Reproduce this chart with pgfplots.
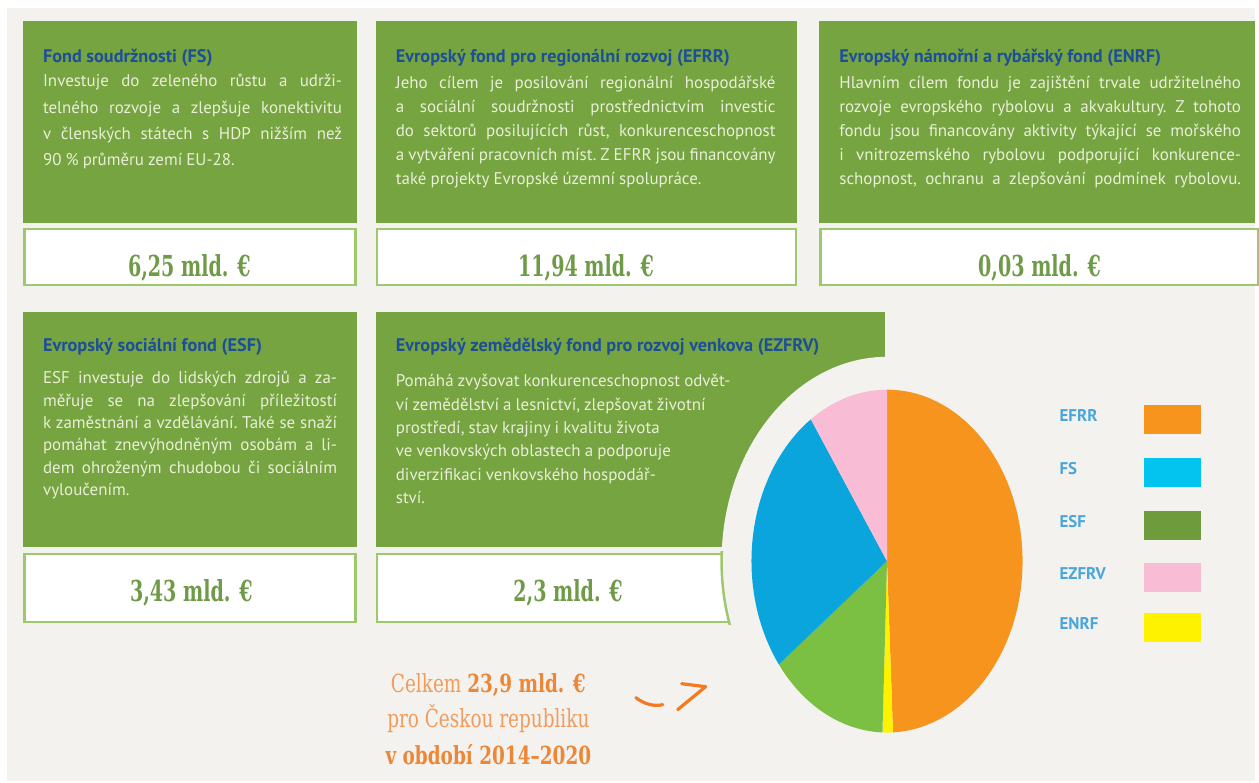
\documentclass[border=0pt]{standalone}
\usepackage{pgfplots}
\pgfplotsset{compat=1.18}
\usepackage{pgfplotstable}
\usepackage{fontspec}
\usetikzlibrary{arrows.meta}
\setmainfont{PT Sans}
\newfontfamily\slab[FakeStretch=0.66]{DejaVu Serif}
\newfontfamily\slabt[FakeStretch=0.74]{DejaVu Serif}

\definecolor{bg}{HTML}{F3F2EF}
\definecolor{boxg}{HTML}{76A440}
\definecolor{ttlc}{HTML}{1D4F98}
\definecolor{bodyc}{HTML}{E9EFD8}
\definecolor{valbd}{HTML}{9DC86E}
\definecolor{valtx}{HTML}{6F9B48}
\definecolor{cEFRR}{HTML}{F7941E}
\definecolor{cFS}{HTML}{0BA5DE}
\definecolor{cESF}{HTML}{7CC043}
\definecolor{cEZFRV}{HTML}{F8BDD4}
\definecolor{cENRF}{HTML}{FFF200}
\definecolor{lgFS}{HTML}{03C3EF}
\definecolor{lgESF}{HTML}{6E9C3C}
\definecolor{lglab}{HTML}{4AA6DA}
\definecolor{org}{HTML}{F29B5C}
\definecolor{orgd}{HTML}{EC8737}
\definecolor{arr}{HTML}{F47A20}

\pgfplotstableread{
fund  value
EFRR  11.94
ENRF  0.30
ESF   3.43
FS    6.25
EZFRV 2.30
}\piedata

\newcommand\ttl[3]{\node[anchor=base west,inner sep=0,text=ttlc,font=\fontsize{18.3}{20}\selectfont\bfseries] at (#1,#2) {#3};}
\newcommand\bfont{\fontsize{17}{19}\selectfont\frenchspacing\spaceskip=.24em plus 2em minus .1em\relax}
\newcommand\jl[4]{\node[anchor=base west,inner sep=0,text=bodyc,font=\bfont] at (#1,#2) {\makebox[#3pt][s]{#4}};}
\newcommand\pl[3]{\node[anchor=base west,inner sep=0,text=bodyc,font=\bfont] at (#1,#2) {#3};}
\newcommand\val[3]{\node[anchor=base,inner sep=0,text=valtx,font=\slab\fontsize{29}{30}\selectfont\bfseries] at (#1,#2) {#3};}

\begin{document}
\pgfplotstablegetelem{0}{value}\of\piedata\edef\vA{\pgfplotsretval}%
\pgfplotstablegetelem{1}{value}\of\piedata\edef\vB{\pgfplotsretval}%
\pgfplotstablegetelem{2}{value}\of\piedata\edef\vC{\pgfplotsretval}%
\pgfplotstablegetelem{3}{value}\of\piedata\edef\vD{\pgfplotsretval}%
\pgfplotstablegetelem{4}{value}\of\piedata\edef\vE{\pgfplotsretval}%
\pgfmathsetmacro\tot{\vA+\vB+\vC+\vD+\vE}%
\pgfmathsetmacro\aA{90}%
\pgfmathsetmacro\aB{\aA-360*\vA/\tot}%
\pgfmathsetmacro\aC{\aB-360*\vB/\tot}%
\pgfmathsetmacro\aD{\aC-360*\vC/\tot}%
\pgfmathsetmacro\aE{\aD-360*\vD/\tot}%
\pgfmathsetmacro\aF{\aE-360*\vE/\tot}%
\begin{tikzpicture}
\begin{scope}[x=1pt,y=-1pt]
\fill[white] (0,0) rectangle (1259,785);
\fill[bg] (7,8) rectangle (1259,784);
% boxes row 1
\fill[boxg] (23,21) rectangle (358,224);
\fill[boxg] (377,21) rectangle (800,224);
\fill[boxg] (822,21) rectangle (1259,224);
\draw[valbd,line width=2.5pt,fill=white] (24.5,230) rectangle (356.5,286);
\draw[valbd,line width=2.5pt,fill=white] (378.5,230) rectangle (798.5,286);
\draw[valbd,line width=2.5pt,fill=white] (823.5,230) rectangle (1262,286);
% boxes row 2
\fill[boxg] (23,313) rectangle (358,549);
\fill[boxg] (377,313) rectangle (888,549);
\draw[valbd,line width=2.5pt,fill=white] (24.5,556) rectangle (356.5,624);
\draw[valbd,line width=2.5pt,fill=white] (378.5,556) rectangle (780,624);
% cut-out ring around the pie
\fill[bg] (890,563) ellipse [x radius=166pt, y radius=205pt];
\begin{scope}
\clip (370,553) rectangle (800,627);
\draw[valbd,line width=2.5pt] (890,563) ellipse [x radius=166pt, y radius=205pt];
\end{scope}
% titles
\ttl{43}{63}{Fond soudržnosti (FS)}
\ttl{397}{63}{Evropský fond pro regionální rozvoj (EFRR)}
\ttl{842}{63}{Evropský námořní a rybářský fond (ENRF)}
\ttl{43}{353}{Evropský sociální fond (ESF)}
\ttl{397}{353}{Evropský zemědělský fond pro rozvoj venkova (EZFRV)}
% body FS
\jl{43}{87}{300}{Investuje do zeleného růstu a udrži-}
\jl{43}{113.5}{300}{telného rozvoje a zlepšuje konektivitu}
\jl{43}{140}{300}{v členských státech s HDP nižším než}
\pl{43}{166.5}{90 \% průměru zemí EU-28.}
% body EFRR
\jl{397}{89}{381}{Jeho cílem je posilování regionální hospodářské}
\jl{397}{113}{381}{a sociální soudržnosti prostřednictvím investic}
\jl{397}{137}{381}{do sektorů posilujících růst, konkurenceschopnost}
\jl{397}{161}{381}{a vytváření pracovních míst. Z EFRR jsou financovány}
\pl{397}{185}{také projekty Evropské územní spolupráce.}
% body ENRF
\jl{842}{89}{403}{Hlavním cílem fondu je zajištění trvale udržitelného}
\jl{842}{113}{403}{rozvoje evropského rybolovu a akvakultury. Z tohoto}
\jl{842}{137}{403}{fondu jsou financovány aktivity týkající se mořského}
\jl{842}{161}{403}{i vnitrozemského rybolovu podporující konkurence-}
\jl{842}{185}{403}{schopnost, ochranu a zlepšování podmínek rybolovu.}
% body ESF
\jl{43}{385}{295}{ESF investuje do lidských zdrojů a za-}
\jl{43}{407.5}{295}{měřuje se na zlepšování příležitostí}
\jl{43}{430}{295}{k zaměstnání a vzdělávání. Také se snaží}
\jl{43}{452.5}{295}{pomáhat znevýhodněným osobám a li-}
\jl{43}{475}{295}{dem ohroženým chudobou či sociálním}
\pl{43}{497.5}{vyloučením.}
% body EZFRV
\pl{397}{388}{Pomáhá zvyšovat konkurenceschopnost odvět-}
\pl{397}{411.5}{ví zemědělství a lesnictví, zlepšovat životní}
\pl{397}{435}{prostředí, stav krajiny i kvalitu života}
\pl{397}{458.5}{ve venkovských oblastech a podporuje}
\pl{397}{482}{diverzifikaci venkovského hospodář-}
\pl{397}{505.5}{ství.}
% values
\val{190}{277}{6,25 mld. €}
\val{588}{277}{11,94 mld. €}
\val{1043}{277}{0,03 mld. €}
\val{192}{604}{3,43 mld. €}
\val{570}{604}{2,3 mld. €}
% total
\node[anchor=base,inner sep=0,text=org,font=\slabt\fontsize{25}{26}\selectfont] at (490,695) {Celkem {\color{orgd}\bfseries 23,9 mld. €}};
\node[anchor=base,inner sep=0,text=org,font=\slabt\fontsize{25}{26}\selectfont] at (490,730) {pro Českou republiku};
\node[anchor=base,inner sep=0,text=orgd,font=\slabt\fontsize{25}{26}\selectfont\bfseries] at (490,767) {v období 2014–2020};
% arrow
\draw[arr,line width=3.2pt,line cap=round] (638,700) .. controls (647,707) and (657,709) .. (665,707);
\draw[arr,line width=3.2pt,line cap=round,line join=round] (680,712) -- (708,689) -- (684,686);
% legend
\foreach \lab/\col/\yc in {EFRR/cEFRR/421, FS/lgFS/474, ESF/lgESF/527, EZFRV/cEZFRV/579, ENRF/cENRF/630}{
  \node[anchor=west,inner sep=0,text=lglab,font=\fontsize{17}{19}\selectfont\bfseries] at (1063,\yc-4) {\lab};
  \fill[\col] (1148,\yc-14.5) rectangle (1205,\yc+14.5);
}
\end{scope}
\begin{axis}[at={(890pt,-563pt)}, anchor=center, width=272pt, height=344pt,
  scale only axis, xmin=-136, xmax=136, ymin=-172, ymax=172,
  enlargelimits=false, hide axis, clip=false]
\fill[cEFRR] (0,0) -- ({136*cos(\aA)},{172*sin(\aA)}) arc[start angle=\aA, end angle=\aB, x radius=136pt, y radius=172pt] -- cycle;
\fill[cENRF] (0,0) -- ({136*cos(\aB)},{172*sin(\aB)}) arc[start angle=\aB, end angle=\aC, x radius=136pt, y radius=172pt] -- cycle;
\fill[cESF] (0,0) -- ({136*cos(\aC)},{172*sin(\aC)}) arc[start angle=\aC, end angle=\aD, x radius=136pt, y radius=172pt] -- cycle;
\fill[cFS] (0,0) -- ({136*cos(\aD)},{172*sin(\aD)}) arc[start angle=\aD, end angle=\aE, x radius=136pt, y radius=172pt] -- cycle;
\fill[cEZFRV] (0,0) -- ({136*cos(\aE)},{172*sin(\aE)}) arc[start angle=\aE, end angle=\aF, x radius=136pt, y radius=172pt] -- cycle;
\end{axis}
\end{tikzpicture}
\end{document}
